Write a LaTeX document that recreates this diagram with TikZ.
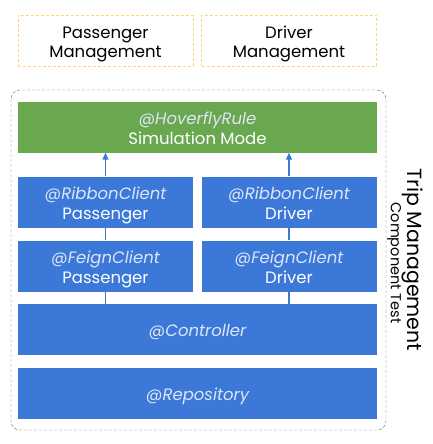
\documentclass[tikz,border=0pt]{standalone}
\usepackage{fontspec}
\setmainfont{Poppins}
\usetikzlibrary{shapes,arrows.meta}
\definecolor{blu}{HTML}{3C78D8}
\definecolor{grn}{HTML}{6AA84F}
\definecolor{ylw}{HTML}{FFD966}
\definecolor{lbl}{HTML}{DCE6F8}
\tikzstyle{mgmt}=[draw=ylw,dash pattern=on 3pt off 2pt,minimum width=175pt,minimum height=51pt,align=center,inner sep=0pt,text height=35pt,text depth=0pt,font=\fontsize{16.5}{20}\selectfont]
\tikzstyle{half}=[fill=blu,text=white,minimum width=175pt,minimum height=51pt,align=center,inner sep=0pt,text height=35pt,text depth=0pt,font=\fontsize{16.5}{20}\selectfont]
\tikzstyle{full}=[fill=blu,text=white,minimum width=359pt,minimum height=51pt,align=center,inner sep=0pt,text height=35pt,text depth=0pt,font=\fontsize{16.5}{20}\selectfont]
\tikzstyle{ann}=[text=lbl,text height=13pt,text depth=0pt,font=\fontsize{16.5}{20}\selectfont\itshape]
\tikzstyle{link}=[blu,line width=1.3pt]

\begin{document}
\begin{tikzpicture}[x=1pt,y=-1pt]
\useasboundingbox (0,0) rectangle (432,444);
\node[mgmt] (pm) at (105.5,40.5) {Passenger\\Management};
\node[mgmt] (dm) at (289,40.5) {Driver\\Management};
\draw[black!60,dash pattern=on 3pt off 2pt,rounded corners=9pt] (11,90) rectangle (386,430);
\node[full,fill=grn] (hov) at (197.5,127) {{\color{lbl}\itshape @HoverflyRule}\\Simulation Mode};
\node[half] (rp) at (105.5,202) {{\color{lbl}\itshape @RibbonClient}\\Passenger};
\node[half] (rd) at (289,202) {{\color{lbl}\itshape @RibbonClient}\\Driver};
\node[half] (fp) at (105.5,266) {{\color{lbl}\itshape @FeignClient}\\Passenger};
\node[half] (fd) at (289,266) {{\color{lbl}\itshape @FeignClient}\\Driver};
\node[full,ann] (ctl) at (197.5,329.5) {@Controller};
\node[full,ann] (rep) at (197.5,393.5) {@Repository};
\draw[link,-{Triangle[width=6pt,length=7pt]}] (rp.north) -- (hov.south -| rp.north);
\draw[link,-{Triangle[width=6pt,length=7pt]}] (rd.north) -- (hov.south -| rd.north);
\draw[link] (fp.north) -- (rp.south);
\draw[link] (fd.north) -- (rd.south);
\draw[link] (ctl.north -| fp.south) -- (fp.south);
\draw[link] (ctl.north -| fd.south) -- (fd.south);
\node[rotate=-90,font=\fontsize{20.5}{24}\selectfont] (trip) at (413,260) {Trip Management};
\node[rotate=-90,font=\fontsize{14.5}{16}\selectfont] (comp) at (394,263) {Component Test};
\end{tikzpicture}
\end{document}
